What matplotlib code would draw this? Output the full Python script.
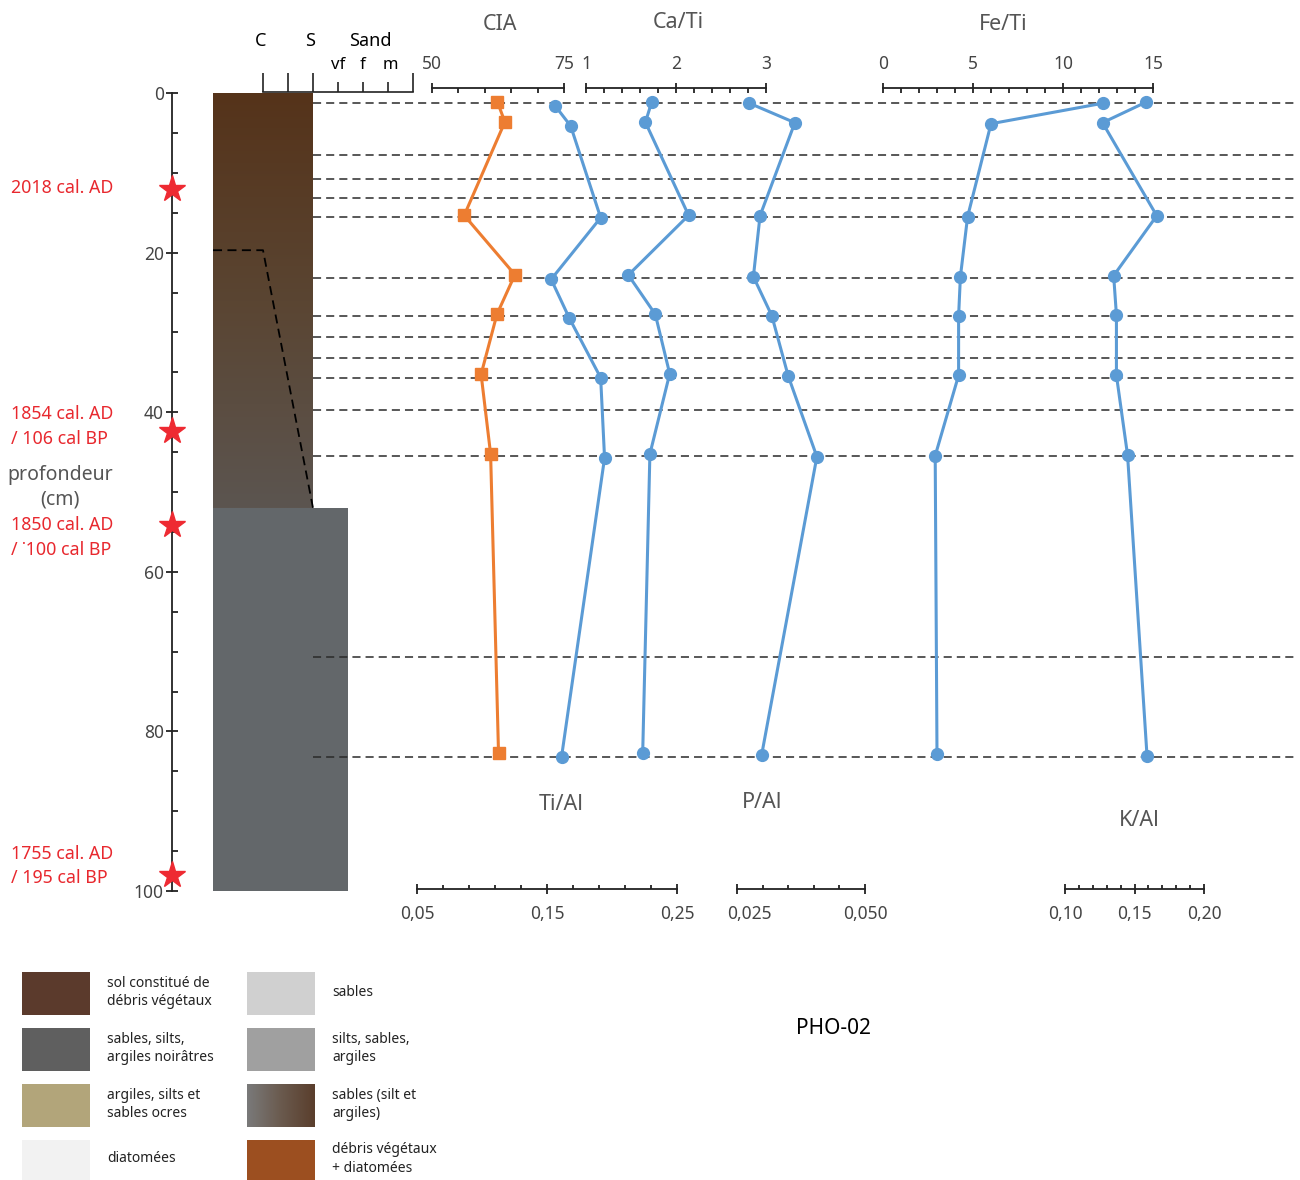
import numpy as np
import matplotlib
matplotlib.use("Agg")
import matplotlib.pyplot as plt
from matplotlib import transforms
from matplotlib.colors import LinearSegmentedColormap
from matplotlib.ticker import FixedLocator, FixedFormatter, NullFormatter
from matplotlib.patches import Rectangle

plt.rcParams['font.family'] = ['Noto Sans', 'DejaVu Sans']

# ---------------- data ----------------
cia_depth = [1.13, 3.63, 15.33, 22.77, 27.73, 35.25, 45.24, 82.74]
cia = [62.4, 63.8, 56.1, 65.7, 62.3, 59.3, 61.1, 62.6]

tial_depth = [1.59, 4.14, 15.63, 23.35, 28.23, 35.68, 45.74, 83.17]
tial = [0.156, 0.168, 0.191, 0.153, 0.167, 0.191, 0.194, 0.161]

cati_depth = [1.13, 3.67, 15.33, 22.81, 27.73, 35.18, 45.24, 82.67]
cati = [1.73, 1.66, 2.14, 1.47, 1.77, 1.93, 1.71, 1.63]

pal_depth = [1.25, 3.72, 15.38, 23.02, 27.91, 35.46, 45.58, 83.0]
pal = [0.0273, 0.0363, 0.0295, 0.0282, 0.0318, 0.0350, 0.0406, 0.0298]

feti_depth = [1.29, 3.85, 15.5, 23.02, 27.94, 35.38, 45.45, 82.87]
feti = [12.2, 6.0, 4.7, 4.3, 4.2, 4.2, 2.9, 3.0]

kal_depth = [1.17, 3.72, 15.38, 22.89, 27.82, 35.38, 45.36, 83.04]
kal = [0.158, 0.127, 0.166, 0.135, 0.137, 0.137, 0.145, 0.159]

sample_depths = [1.3, 7.75, 10.75, 13.1, 15.5, 23.15, 28.0, 30.6, 33.2, 35.75,
                 39.7, 45.55, 70.7, 83.2]

depth_ticks = [0, 20, 40, 60, 80, 100]
star_depth = [12.0, 42.4, 54.1, 98.0]
date_labels = ["2018 cal. AD", "1854 cal. AD\n/ 106 cal BP",
               "1850 cal. AD\n/ \u02d9100 cal BP", "1755 cal. AD\n/ 195 cal BP"]
date_label_depth = [11.9, 41.8, 55.7, 96.9]

litho_top = [0, 52]
litho_bottom = [52, 100]
litho_grain = [2.0, 3.4]
contact_grain = [-2, 0, 2]
contact_depth = [19.7, 19.7, 52]

grain_major = [0, 1, 2, 6]
grain_minor = [3, 4, 5]
grain_top_labels = ["C", "S", "Sand"]
grain_top_pos = [-0.1, 1.9, 4.3]
grain_sub_labels = ["vf", "f", "m"]
grain_sub_pos = [3.0, 4.0, 5.08]

cia_ticks, cia_ticklabels = [50, 75], ["50", "75"]
cati_ticks, cati_ticklabels = [1, 2, 3], ["1", "2", "3"]
feti_ticks, feti_ticklabels = [0, 5, 10, 15], ["0", "5", "10", "15"]
tial_ticks, tial_ticklabels = [0.05, 0.15, 0.25], ["0,05", "0,15", "0,25"]
pal_ticks, pal_ticklabels = [0.025, 0.050], ["0,025", "0,050"]
kal_ticks, kal_ticklabels = [0.10, 0.15, 0.20], ["0,10", "0,15", "0,20"]

legend_labels = ["sol constitué de\ndébris végétaux", "sables, silts,\nargiles noirâtres",
                 "argiles, silts et\nsables ocres", "diatomées",
                 "sables", "silts, sables,\nargiles", "sables (silt et\nargiles)",
                 "débris végétaux\n+ diatomées"]
legend_colors = ["#5b3a2c", "#5f5f5f", "#b2a57a", "#f2f2f2",
                 "#d0d0d0", "#a0a0a0", None, "#9c4f20"]

# ---------------- figure ----------------
W, H = 1300, 1180
fig = plt.figure(figsize=(W / 100, H / 100), dpi=100)

def fx(x):
    return x / W

def fy(y):
    return 1 - y / H

def px_axes(x0, x1, y0=93, y1=891):
    return fig.add_axes([x0 / W, 1 - y1 / H, (x1 - x0) / W, (y1 - y0) / H])

AXC = '#222222'
TXT = '#444444'

# depth axis
axd = px_axes(172, 213)
axd.set_ylim(100, 0)
axd.set_xlim(0, 1)
for s in ['top', 'right', 'bottom']:
    axd.spines[s].set_visible(False)
axd.spines['left'].set_linewidth(1.3)
axd.spines['left'].set_color(AXC)
axd.set_xticks([])
axd.yaxis.set_major_locator(FixedLocator(depth_ticks))
axd.yaxis.set_minor_locator(FixedLocator(np.arange(0, 101, 5)))
axd.tick_params(axis='y', which='major', direction='inout', length=8, width=1.3,
                labelsize=12.5, labelcolor=TXT, color=AXC, pad=2)
axd.tick_params(axis='y', which='minor', direction='in', length=4, width=1.3, color=AXC)
axd.patch.set_visible(False)
axd.plot([0] * len(star_depth), star_depth, ls='none', marker='*', ms=20,
         color='#ee2a32', clip_on=False, zorder=5)
tr_lab = transforms.blended_transform_factory(fig.transFigure, axd.transData)
for lab, d in zip(date_labels, date_label_depth):
    fig.text(fx(11), d, lab, transform=tr_lab, ha='left', va='center',
             fontsize=12.8, color='#e8282e', linespacing=1.45)
fig.text(fx(60), 49.4, "profondeur\n(cm)", transform=tr_lab, ha='center', va='center',
         fontsize=14, color='#555555', linespacing=1.35)

# core column + grain size scale
axc = px_axes(213, 413)
cmap_brown = LinearSegmentedColormap.from_list('br', ['#55331a', '#5a4532', '#5c5550'])
axc.imshow(np.linspace(0, 1, 256).reshape(-1, 1), extent=(-2, litho_grain[0], litho_bottom[0], litho_top[0]),
           cmap=cmap_brown, aspect='auto', zorder=1)
axc.fill_betweenx([litho_top[1], litho_bottom[1]], -2, litho_grain[1], color='#63676a', lw=0, zorder=1)
axc.plot(contact_grain, contact_depth, color='black', lw=1.3, ls=(0, (5, 3)), zorder=2)
axc.set_xlim(-2, 6)
axc.set_ylim(100, 0)
axc.patch.set_visible(False)
for s in ['left', 'right', 'bottom']:
    axc.spines[s].set_visible(False)
axc.spines['top'].set_bounds(0, 6)
axc.spines['top'].set_position(('outward', 0.8))
axc.spines['top'].set_linewidth(1.2)
axc.spines['top'].set_color(AXC)
axc.set_yticks([])
axc.xaxis.set_ticks_position('top')
axc.xaxis.set_major_locator(FixedLocator(grain_major))
axc.xaxis.set_minor_locator(FixedLocator(grain_minor))
axc.xaxis.set_major_formatter(NullFormatter())
axc.tick_params(axis='x', which='major', direction='out', length=13.5, width=1.2, color=AXC)
axc.tick_params(axis='x', which='minor', direction='out', length=7, width=1.2, color=AXC)
tr_g = transforms.blended_transform_factory(axc.transData, fig.transFigure)
for lab, x in zip(grain_top_labels, grain_top_pos):
    fig.text(x, fy(41), lab, transform=tr_g, ha='center', va='center', fontsize=13, color='black')
for lab, x in zip(grain_sub_labels, grain_sub_pos):
    fig.text(x, fy(65), lab, transform=tr_g, ha='center', va='center', fontsize=12, color='black')

# sample dashed lines
axl = px_axes(313, 1295)
axl.set_xlim(0, 1)
axl.set_ylim(100, 0)
axl.axis('off')
axl.hlines(sample_depths, 0, 1, colors='#2a2a2a', lw=1.1, linestyles=[(0, (5.3, 3.3))])

ORANGE = '#ed7d31'
BLUE = '#5b9bd5'

def series_axes(x0, x1, lo, hi, ticks, ticklabels, minor_step, side, vals, depths, color, marker, ms):
    ax = px_axes(x0, x1)
    ax.set_xlim(lo, hi)
    ax.set_ylim(100, 0)
    ax.patch.set_visible(False)
    ax.yaxis.set_visible(False)
    for s in ['left', 'right', 'top', 'bottom']:
        ax.spines[s].set_visible(s == side)
    sp = ax.spines[side]
    sp.set_linewidth(1.3)
    sp.set_color(AXC)
    if side == 'top':
        sp.set_position(('outward', 3.5))
        ax.xaxis.set_ticks_position('top')
        majlen, minlen, pad = 7.9, 3.6, 7
    else:
        sp.set_position(('outward', -1.5))
        ax.xaxis.set_ticks_position('bottom')
        majlen, minlen, pad = 6.5, 2.9, 8
    ax.xaxis.set_major_locator(FixedLocator(ticks))
    ax.xaxis.set_major_formatter(FixedFormatter(ticklabels))
    ax.xaxis.set_minor_locator(FixedLocator(np.arange(lo, hi + minor_step * 0.01, minor_step)))
    ax.tick_params(axis='x', which='major', direction='inout', length=majlen, width=1.3,
                   color=AXC, labelsize=12.5, labelcolor=TXT, pad=pad)
    ax.tick_params(axis='x', which='minor', direction='in', length=minlen, width=1.3, color=AXC)
    ax.plot(vals, depths, color=color, lw=2.2, marker=marker, ms=ms, clip_on=False, zorder=3)
    return ax

series_axes(432, 564, 50, 75, cia_ticks, cia_ticklabels, 5, 'top', cia, cia_depth, ORANGE, 's', 8)
series_axes(586, 766, 1, 3, cati_ticks, cati_ticklabels, 0.2, 'top', cati, cati_depth, BLUE, 'o', 8.5)
series_axes(883, 1153, 0, 15, feti_ticks, feti_ticklabels, 1, 'top', feti, feti_depth, BLUE, 'o', 8.5)
series_axes(417, 677.5, 0.05, 0.25, tial_ticks, tial_ticklabels, 0.02, 'bottom', tial, tial_depth, BLUE, 'o', 8.5)
axp = series_axes(737, 865, 0.025, 0.050, pal_ticks, pal_ticklabels, 0.005, 'bottom', pal, pal_depth, BLUE, 'o', 8.5)
series_axes(1065, 1204, 0.10, 0.20, kal_ticks, kal_ticklabels, 0.01, 'bottom', kal, kal_depth, BLUE, 'o', 8.5)

# shift the first P/Al tick label to the right, as in the original
lbl = axp.xaxis.get_major_ticks()[0].label1
lbl.set_transform(lbl.get_transform() + transforms.ScaledTranslation(0.12, 0, fig.dpi_scale_trans))

# titles
for t, x, y in [("CIA", 500, 25), ("Ca/Ti", 678, 23), ("Fe/Ti", 1003, 25),
                ("Ti/Al", 561, 805), ("P/Al", 762, 802), ("K/Al", 1139, 820)]:
    fig.text(fx(x), fy(y), t, ha='center', va='center', fontsize=15.5, color='#555555')

fig.text(fx(833), fy(1029), "PHO-02", ha='center', va='center', fontsize=15, color='black')

# legend
axg = fig.add_axes([0, 0, 460 / W, 220 / H])
axg.axis('off')
cmap_grad = LinearSegmentedColormap.from_list('gr', ['#7a7a7a', '#6a5a4e', '#5a3e2c'])
for i, (lab, col) in enumerate(zip(legend_labels, legend_colors)):
    c, r = divmod(i, 4)
    x0 = 22 + c * 225
    y0 = 972 + r * 56
    h = 43 if r < 3 else 40
    if col is None:
        axg.imshow(np.linspace(0, 1, 256).reshape(1, -1), extent=(x0, x0 + 68, y0 + h, y0),
                   cmap=cmap_grad, aspect='auto')
    else:
        axg.add_patch(Rectangle((x0, y0), 68, h, color=col, lw=0))
    axg.text(x0 + 85, y0 + h / 2 - 1, lab, ha='left', va='center', fontsize=10,
             color='#222222', linespacing=1.3)
axg.set_xlim(0, 460)
axg.set_ylim(1180, 960)

fig.savefig("out.png", dpi=100)
